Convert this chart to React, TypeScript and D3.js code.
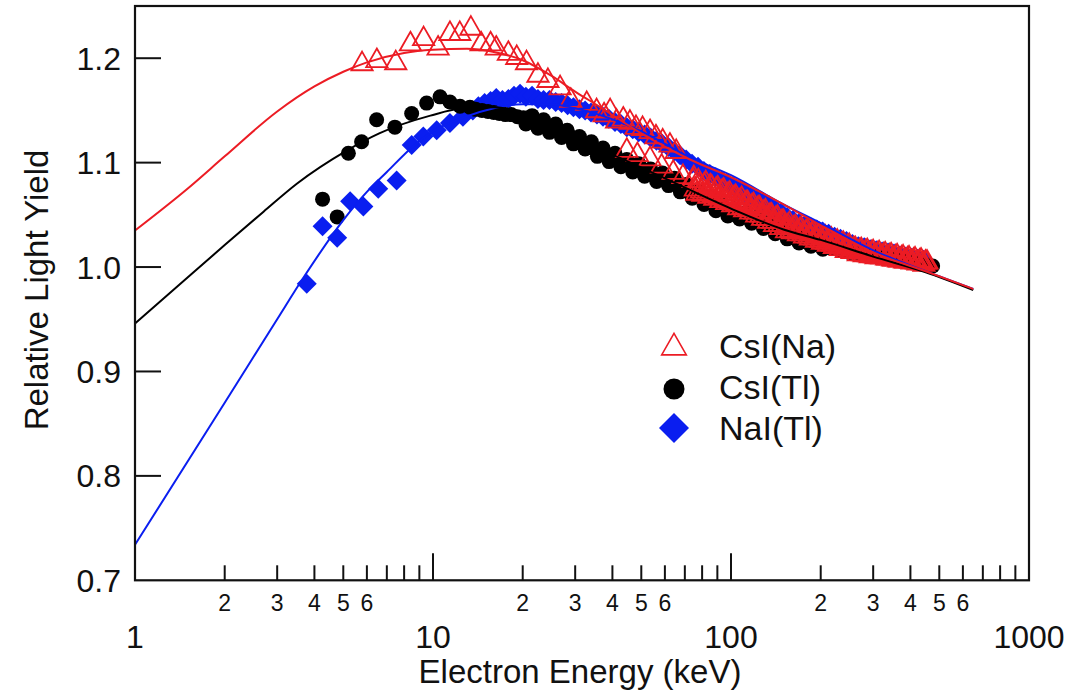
import React from "react";
import * as d3 from "d3";

// ---------- data (E in keV, relative light yield) ----------
const csiNaPoints: [number, number][] = [
  [5.78, 1.195], [6.48, 1.198], [7.5, 1.196], [8.4, 1.214], [9.3, 1.219], [10.4, 1.21],
  [11.4, 1.224], [12.3, 1.224], [13.4, 1.229], [14.5, 1.214], [15.6, 1.214], [16.3, 1.21],
  [17.9, 1.205], [19.1, 1.201], [20.6, 1.196], [22.5, 1.184], [24.3, 1.179], [26.7, 1.172],
  [29.0, 1.16], [32.8, 1.157], [35.4, 1.15], [37.5, 1.146], [39.3, 1.15], [41.3, 1.14],
  [43.5, 1.142], [45.8, 1.139], [48, 1.134], [50.5, 1.133], [53.5, 1.13], [56, 1.125],
  [59, 1.121], [62.4, 1.117], [65.5, 1.111],
  [44.7, 1.112], [48.5, 1.108], [53.5, 1.104], [58.5, 1.097], [64, 1.091], [69, 1.087], [74.7, 1.083],
  [75, 1.086], [76.8, 1.071], [78.6, 1.08], [80.4, 1.07], [82.3, 1.081], [84.2, 1.068],
  [86.2, 1.077], [88.2, 1.066], [90.3, 1.076], [92.4, 1.064], [94.5, 1.074], [96.7, 1.062],
  [99.0, 1.071], [101.3, 1.06], [103.7, 1.068], [106.1, 1.057], [108.6, 1.066], [111.1, 1.055],
  [113.7, 1.062], [116.4, 1.053], [119.1, 1.06], [121.9, 1.05], [124.7, 1.057], [127.6, 1.047],
  [130.6, 1.054], [133.7, 1.044], [136.8, 1.05], [140.0, 1.041], [143.3, 1.048], [146.6, 1.038],
  [150.0, 1.044], [153.5, 1.035], [157.1, 1.042], [160.8, 1.034], [164.6, 1.039], [168.4, 1.032],
  [172.3, 1.037], [176.4, 1.03], [180.5, 1.035], [184.7, 1.028], [189.0, 1.033], [193.4, 1.026],
  [197.9, 1.031], [202.6, 1.024], [207.3, 1.029], [212.1, 1.022], [217.1, 1.027], [222.2, 1.02],
  [227.4, 1.025], [232.7, 1.018], [238.1, 1.023], [243.7, 1.016], [249.4, 1.021], [255.2, 1.015],
  [261.2, 1.018], [267.3, 1.013], [273.5, 1.017], [279.9, 1.012], [286.5, 1.016], [293.2, 1.011],
  [300.0, 1.015], [307.0, 1.01], [314.2, 1.014], [321.6, 1.01], [329.1, 1.013], [336.8, 1.009],
  [344.6, 1.012], [352.7, 1.008], [360.9, 1.011], [369.3, 1.007], [378.0, 1.01], [386.8, 1.006],
  [395.8, 1.009], [405.1, 1.005], [414.6, 1.008], [424.3, 1.004], [434.2, 1.007], [444.3, 1.003],
  [454.7, 1.005],
  [75.9, 1.075], [77.7, 1.083], [79.5, 1.073], [81.3, 1.079], [83.2, 1.071], [85.2, 1.078],
  [87.2, 1.069], [89.2, 1.075], [91.3, 1.067], [93.4, 1.073], [95.6, 1.065], [97.8, 1.07],
  [100.1, 1.063], [102.5, 1.067], [104.9, 1.061], [107.3, 1.064], [109.8, 1.058], [112.4, 1.062],
  [115.0, 1.056], [117.7, 1.059], [120.5, 1.053], [123.3, 1.057], [126.1, 1.05], [129.1, 1.053],
  [132.1, 1.047], [135.2, 1.05], [138.4, 1.044], [141.6, 1.047], [144.9, 1.041], [148.3, 1.044],
  [151.7, 1.038], [155.3, 1.04], [158.9, 1.036], [162.7, 1.038], [166.5, 1.034], [170.3, 1.036],
  [174.3, 1.032], [178.4, 1.034], [182.6, 1.03], [186.8, 1.032], [191.2, 1.028], [195.6, 1.03],
  [200.2, 1.026], [204.9, 1.028], [209.7, 1.024], [214.6, 1.026], [219.6, 1.022], [224.8, 1.024],
  [230.0, 1.02], [235.4, 1.022], [240.9, 1.018], [246.5, 1.02], [252.3, 1.016], [258.2, 1.018],
  [264.2, 1.015], [270.4, 1.016], [276.7, 1.013], [283.2, 1.015], [289.8, 1.012], [296.6, 1.014],
  [303.5, 1.011], [310.6, 1.013], [317.9, 1.01], [325.3, 1.012], [332.9, 1.009], [340.7, 1.011],
  [348.6, 1.008], [356.8, 1.01], [365.1, 1.007], [373.6, 1.009], [382.4, 1.006], [391.3, 1.008],
  [400.4, 1.006], [409.8, 1.007], [419.4, 1.005], [429.2, 1.006], [439.2, 1.004], [449.5, 1.005],
];

const csiTlPoints: [number, number][] = [
  [4.26, 1.065], [4.77, 1.048], [5.2, 1.109], [5.76, 1.12], [6.47, 1.141], [7.45, 1.134],
  [8.48, 1.147], [9.52, 1.157], [10.56, 1.163], [11.4, 1.158], [12.32, 1.154],
  [13.3, 1.153], [13.9, 1.151], [14.6, 1.15], [15.3, 1.149], [16.0, 1.148], [16.7, 1.147],
  [17.5, 1.146], [18.3, 1.146], [19.2, 1.144], [20.1, 1.143], [21.0, 1.141], [22.0, 1.139],
  [23.0, 1.137], [24.1, 1.135], [25.2, 1.133], [26.4, 1.131], [27.6, 1.128], [28.9, 1.125],
  [30.3, 1.122], [31.7, 1.119], [33.2, 1.117], [34.8, 1.113], [36.4, 1.11], [38.1, 1.108],
  [39.9, 1.105], [41.8, 1.103], [43.7, 1.1], [45.8, 1.097], [47.9, 1.096], [50.2, 1.093],
  [52.5, 1.091], [55.0, 1.088], [57.6, 1.087], [60.3, 1.084], [63.1, 1.082], [66.1, 1.079],
  [69.2, 1.076], [72.4, 1.073], [75.8, 1.07], [79.4, 1.067], [83.1, 1.064], [87.0, 1.061],
  [91.1, 1.058], [95.4, 1.055], [99.8, 1.053], [104.5, 1.051], [109.4, 1.049], [114.6, 1.047],
  [120, 1.045], [125.6, 1.043], [131.5, 1.04], [137.6, 1.038], [144.1, 1.035], [150.9, 1.033],
  [158, 1.03], [165.4, 1.028], [173.1, 1.026], [181.3, 1.025], [189.8, 1.023], [198.7, 1.021],
  [208, 1.02], [217.8, 1.018], [228, 1.017], [238.7, 1.015], [249.9, 1.014], [261.7, 1.013],
  [274, 1.012], [286.8, 1.011], [300.3, 1.01], [314.4, 1.009], [329.2, 1.008], [344.6, 1.008],
  [360.8, 1.007], [377.8, 1.006], [395.5, 1.005], [414, 1.004], [433.5, 1.003], [453.9, 1.002],
  [475, 1.001],
  [20.5, 1.137], [21.5, 1.145], [22.5, 1.133], [23.5, 1.141], [24.6, 1.129], [25.8, 1.137],
  [27.0, 1.124], [28.2, 1.131], [29.6, 1.118], [31.0, 1.125], [32.4, 1.113], [34.0, 1.12],
  [35.6, 1.106], [37.2, 1.114], [39.0, 1.101], [40.8, 1.109], [42.7, 1.096], [44.7, 1.103],
  [46.8, 1.091], [49.0, 1.099], [51.3, 1.087], [53.7, 1.094], [56.3, 1.082], [58.9, 1.09],
  [61.7, 1.078], [64.6, 1.085], [67.6, 1.072], [70.8, 1.079], [74.1, 1.066], [77.6, 1.073],
  [81.2, 1.06], [85.0, 1.067], [89.0, 1.054], [93.2, 1.061], [97.6, 1.049], [102.1, 1.056],
  [106.9, 1.046], [112, 1.052], [117.3, 1.042], [122.8, 1.048], [128.5, 1.037], [134.5, 1.043],
  [140.8, 1.032], [147.5, 1.038], [154.4, 1.027], [161.7, 1.033], [169.2, 1.023], [177.2, 1.029],
  [185.5, 1.02], [194.2, 1.026], [203.3, 1.017],
];

const naiTlPoints: [number, number][] = [
  [3.77, 0.984], [4.26, 1.039], [4.77, 1.028], [5.27, 1.063], [5.84, 1.058], [6.55, 1.075],
  [7.55, 1.083], [8.48, 1.117], [9.28, 1.125], [10.29, 1.131], [11.4, 1.138], [12.6, 1.144],
  [13.6, 1.15], [14.2, 1.154], [14.9, 1.157], [15.6, 1.159], [16.3, 1.162], [17.1, 1.16],
  [17.9, 1.161], [18.7, 1.164], [19.6, 1.166], [20.5, 1.163], [21.5, 1.164], [22.5, 1.161],
  [23.5, 1.16], [24.6, 1.16], [25.8, 1.158], [27.0, 1.157], [28.3, 1.155], [29.6, 1.153],
  [31.0, 1.151], [32.4, 1.15], [33.9, 1.148], [35.5, 1.146], [37.2, 1.144], [38.9, 1.142],
  [40.8, 1.139], [42.7, 1.137], [44.7, 1.134], [46.8, 1.132], [49.0, 1.129], [51.3, 1.127],
  [53.7, 1.124], [56.2, 1.121], [58.8, 1.118], [61.6, 1.115], [64.5, 1.111], [67.5, 1.107],
  [70.7, 1.103], [74.0, 1.099], [77.5, 1.096], [81.1, 1.092], [84.9, 1.089], [88.9, 1.086],
  [93.1, 1.083], [97.5, 1.08], [102, 1.077], [106.8, 1.074], [111.8, 1.071], [117.1, 1.068],
  [122.6, 1.065], [128.3, 1.062], [134.3, 1.059], [140.7, 1.055], [147.3, 1.052], [154.2, 1.048],
  [161.4, 1.045], [169, 1.042], [177, 1.04], [185.3, 1.038], [194, 1.036], [203, 1.034],
  [212.6, 1.032], [222.6, 1.029], [233, 1.027], [244, 1.025], [255.5, 1.022], [267.5, 1.02],
  [280, 1.019], [293.2, 1.017], [307, 1.016], [321.4, 1.015], [336.5, 1.014], [352.3, 1.013],
  [368.8, 1.011], [386.2, 1.01], [404.3, 1.009], [423.3, 1.008], [443.2, 1.007],
];

const csiNaFit: [number, number][] = [
  [1, 1.035], [1.5, 1.075], [2, 1.106], [3, 1.149], [4, 1.173], [5, 1.187], [6, 1.196],
  [8, 1.205], [10, 1.208], [13, 1.209], [16, 1.206], [20, 1.198], [25, 1.183], [30, 1.168],
  [36, 1.154], [50, 1.128], [72.8, 1.103], [100, 1.086], [150, 1.06], [200, 1.04],
  [300, 1.014], [450, 0.996], [650, 0.979],
];
const csiTlFit: [number, number][] = [
  [1, 0.946], [1.6, 0.997], [2, 1.021], [2.7, 1.053], [3.5, 1.08], [5.1, 1.111], [6.6, 1.128],
  [9.8, 1.145], [12.6, 1.152], [16, 1.153], [20, 1.148], [25, 1.138], [33, 1.118],
  [42, 1.105], [60, 1.085], [100, 1.056], [150, 1.036], [200, 1.026], [300, 1.01],
  [450, 0.995], [650, 0.978],
];
const naiTlFit: [number, number][] = [
  [1, 0.734], [2, 0.87], [3, 0.95], [3.64, 0.988], [5, 1.045], [6, 1.072], [7, 1.091],
  [8.6, 1.116], [10, 1.13], [12.6, 1.143], [16, 1.152], [20, 1.156], [25, 1.156],
  [30, 1.152], [36, 1.146], [50, 1.13], [72.8, 1.105], [100, 1.088], [150, 1.06],
  [200, 1.042], [300, 1.016], [450, 0.996], [650, 0.979],
];

const yTicks = [0.7, 0.8, 0.9, 1.0, 1.1, 1.2];
const xMajor = [1, 10, 100, 1000];
const xDecades = [1, 10, 100];
const xMinorMultipliers = [2, 3, 4, 5, 6, 7, 8, 9];
const xMinorLabeled = [2, 3, 4, 5, 6];

const legendItems = ["CsI(Na)", "CsI(Tl)", "NaI(Tl)"];

const RED = "#ec1c24";
const BLUE = "#0a1ef0";
const BLACK = "#000000";
const FONT = "'Liberation Sans', Arial, Helvetica, sans-serif";

export default function App() {
  const W = 1073;
  const H = 692;
  const left = 135, right = 1029, top = 6, bottom = 580.3;
  const x = d3.scaleLog().domain([1, 1000]).range([left, right]);
  const y = d3.scaleLinear().domain([0.7, 1.25]).range([bottom, top]);

  const line = d3
    .line<[number, number]>()
    .x((d) => x(d[0]))
    .y((d) => y(d[1]))
    .curve(d3.curveMonotoneX);

  const tri = (s: number) => `M0,${-s * 0.62} L${s * 0.56},${s * 0.36} L${-s * 0.56},${s * 0.36} Z`;
  const diamond = (h: number) => `M0,${-h} L${h},0 L0,${h} L${-h},0 Z`;

  const minorTicks: number[] = [];
  xDecades.forEach((d) => xMinorMultipliers.forEach((m) => minorTicks.push(m * d)));
  const minorLabels: { v: number; t: string }[] = [];
  xDecades.forEach((d) => xMinorLabeled.forEach((m) => minorLabels.push({ v: m * d, t: String(m) })));

  return (
    <svg
      width={W}
      height={H}
      viewBox={`0 0 ${W} ${H}`}
      style={{ position: "absolute", left: 0, top: 0, background: "#fff" }}
      fontFamily={FONT}
    >
      <rect x={0} y={0} width={W} height={H} fill="#fff" />

      {/* data: NaI(Tl) */}
      <g fill={BLUE}>
        {naiTlPoints.map((d, i) => (
          <path key={i} d={diamond(10)} transform={`translate(${x(d[0])},${y(d[1])})`} />
        ))}
      </g>
      {/* data: CsI(Tl) */}
      <g fill={BLACK}>
        {csiTlPoints.map((d, i) => (
          <circle key={i} cx={x(d[0])} cy={y(d[1])} r={7.5} />
        ))}
      </g>
      {/* data: CsI(Na) */}
      <g fill="none" stroke={RED} strokeWidth={1.8} strokeLinejoin="miter">
        {csiNaPoints.map((d, i) => (
          <path key={i} d={tri(19)} transform={`translate(${x(d[0])},${y(d[1])})`} />
        ))}
      </g>

      {/* fits */}
      <path d={line(naiTlFit) || ""} fill="none" stroke={BLUE} strokeWidth={2} />
      <path d={line(csiTlFit) || ""} fill="none" stroke={BLACK} strokeWidth={2} />
      <path d={line(csiNaFit) || ""} fill="none" stroke={RED} strokeWidth={2} />

      {/* frame */}
      <rect x={left} y={top} width={right - left} height={bottom - top} fill="none" stroke="#111" strokeWidth={2.2} />

      {/* y ticks */}
      {yTicks.map((t) => (
        <g key={t}>
          {t > 0.7 && <line x1={left} x2={left + 26} y1={y(t)} y2={y(t)} stroke="#111" strokeWidth={2} />}
          <text x={121} y={y(t)} dy="0.36em" textAnchor="end" fontSize={32} fill="#111">
            {t.toFixed(1)}
          </text>
        </g>
      ))}

      {/* x ticks */}
      {minorTicks.map((t) => (
        <line key={t} x1={x(t)} x2={x(t)} y1={bottom} y2={bottom - 15} stroke="#111" strokeWidth={2} />
      ))}
      {[10, 100].map((t) => (
        <line key={t} x1={x(t)} x2={x(t)} y1={bottom} y2={bottom - 27} stroke="#111" strokeWidth={2} />
      ))}
      {minorLabels.map((m) => (
        <text key={m.v} x={x(m.v)} y={611} textAnchor="middle" fontSize={23} fill="#111">
          {m.t}
        </text>
      ))}
      {xMajor.map((t) => (
        <text key={t} x={x(t)} y={648} textAnchor="middle" fontSize={32} fill="#111">
          {String(t)}
        </text>
      ))}

      {/* axis titles */}
      <text x={580} y={683} textAnchor="middle" fontSize={33} fill="#111">
        Electron Energy (keV)
      </text>
      <text transform="translate(48,290) rotate(-90)" textAnchor="middle" fontSize={33} fill="#111">
        Relative Light Yield
      </text>

      {/* legend */}
      <g>
        <path d={tri(22)} transform="translate(674,347)" fill="none" stroke={RED} strokeWidth={1.6} />
        <circle cx={674} cy={389} r={10.5} fill={BLACK} />
        <path d={diamond(15)} transform="translate(674,428)" fill={BLUE} />
        {legendItems.map((t, i) => (
          <text key={t} x={719} y={358 + i * 41} fontSize={34} fill="#111">
            {t}
          </text>
        ))}
      </g>
    </svg>
  );
}
